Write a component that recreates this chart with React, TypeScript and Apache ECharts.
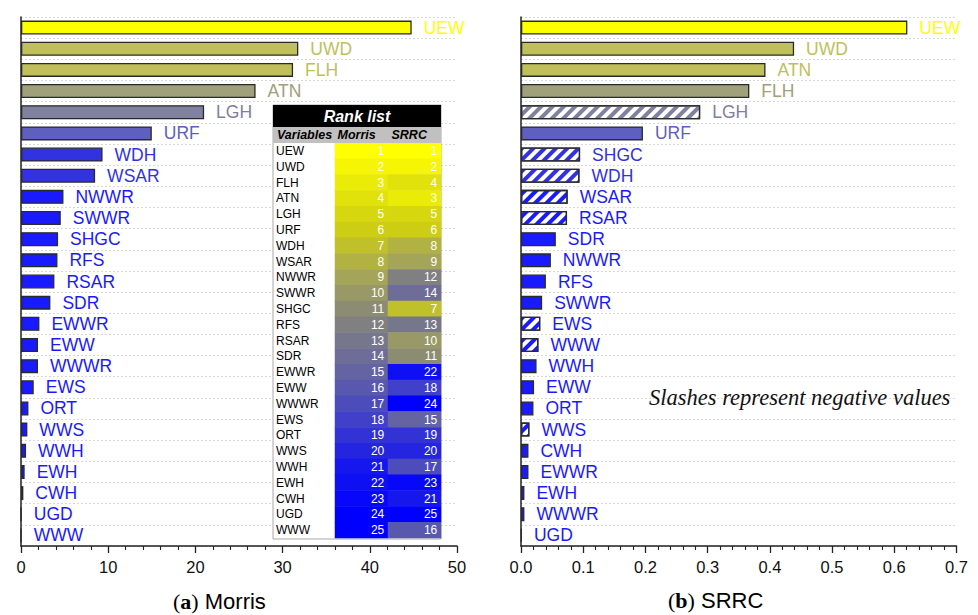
import React, { useEffect, useRef } from "react";
import * as echarts from "echarts";

// ---------- data ----------
const morrisVars = ["UEW", "UWD", "FLH", "ATN", "LGH", "URF", "WDH", "WSAR", "NWWR", "SWWR", "SHGC", "RFS", "RSAR", "SDR", "EWWR", "EWW", "WWWR", "EWS", "ORT", "WWS", "WWH", "EWH", "CWH", "UGD", "WWW"];
const morrisValues = [44.8, 31.8, 31.2, 26.9, 21.0, 15.0, 9.35, 8.5, 4.87, 4.56, 4.25, 4.18, 3.83, 3.37, 2.11, 1.95, 1.95, 1.46, 0.85, 0.73, 0.58, 0.42, 0.27, 0.02, 0.01];

const srrcVars = ["UEW", "UWD", "ATN", "FLH", "LGH", "URF", "SHGC", "WDH", "WSAR", "RSAR", "SDR", "NWWR", "RFS", "SWWR", "EWS", "WWW", "WWH", "EWW", "ORT", "WWS", "CWH", "EWWR", "EWH", "WWWR", "UGD"];
const srrcValues = [0.621, 0.439, 0.393, 0.367, -0.288, 0.196, -0.095, -0.094, -0.075, -0.074, 0.056, 0.048, 0.040, 0.034, -0.031, -0.028, 0.025, 0.021, 0.020, -0.0135, 0.012, 0.012, 0.0055, 0.0055, 0.001];

const morrisTicks = [0, 10, 20, 30, 40, 50];
const srrcTicks = [0, 0.1, 0.2, 0.3, 0.4, 0.5, 0.6, 0.7];
const tableColumns = ["Morris", "SRRC"];

// ---------- styles ----------
const SANS = '"Liberation Sans", Arial, sans-serif';
const SERIF = '"Liberation Serif", "Times New Roman", serif';

function valueColor(t: number): string {
  if (t >= 0.9) return "#FFFF00";
  if (t >= 0.62) return "#C0C05A";
  if (t >= 0.55) return "#A0A07A";
  if (t >= 0.4) return "#80809F";
  if (t >= 0.28) return "#5F5FC0";
  if (t >= 0.15) return "#3232E0";
  return "#1A1AFF";
}

const rankStops: [number, number[]][] = [
  [1, [255, 255, 0]],
  [6, [205, 205, 20]],
  [9, [165, 165, 90]],
  [12, [128, 128, 128]],
  [15, [100, 100, 162]],
  [18, [64, 64, 200]],
  [21, [22, 22, 238]],
  [24, [0, 0, 255]],
  [25, [0, 0, 255]],
];
function rankColor(r: number): string {
  for (let i = 0; i < rankStops.length - 1; i++) {
    const [a, ca] = rankStops[i];
    const [b, cb] = rankStops[i + 1];
    if (r >= a && r <= b) {
      const f = (r - a) / (b - a);
      const c = ca.map((v, k) => Math.round(v + (cb[k] - v) * f));
      return `rgb(${c[0]},${c[1]},${c[2]})`;
    }
  }
  return "rgb(0,0,255)";
}

export default function App() {
  const ref = useRef<HTMLDivElement>(null);
  useEffect(() => {
    if (!ref.current) return;
    const chart = echarts.init(ref.current, undefined, { renderer: "svg" });

    const mMax = Math.max(...morrisValues);
    const sMax = Math.max(...srrcValues.map((v) => Math.abs(v)));

    const morrisData = morrisValues.map((v) => {
      const c = valueColor(v / mMax);
      return { value: v, itemStyle: { color: c }, label: { color: c } };
    });
    const srrcData = srrcValues.map((v) => {
      const a = Math.abs(v);
      const c = valueColor(a / sMax);
      if (v < 0) {
        return {
          value: a,
          itemStyle: {
            color: "#ffffff",
            decal: {
              symbol: "rect",
              symbolSize: 1,
              color: c,
              dashArrayX: [1, 0],
              dashArrayY: [4, 4],
              rotation: -Math.PI / 4,
            },
          },
          label: { color: c },
        };
      }
      return { value: a, itemStyle: { color: c }, label: { color: c } };
    });

    const srrcRanks = morrisVars.map((v) => srrcVars.indexOf(v) + 1);
    const heatData: number[][] = [];
    morrisVars.forEach((v, i) => {
      heatData.push([0, i, i + 1]);
      heatData.push([1, i, srrcRanks[i]]);
    });
    const rankPieces = morrisVars.map((_, i) => ({ value: i + 1, color: rankColor(i + 1) }));

    const valueAxisCommon = {
      type: "value",
      axisLine: { show: true, lineStyle: { color: "#222", width: 1.5 } },
      axisTick: { show: true, inside: false, length: 7, lineStyle: { color: "#222", width: 1.3 } },
      minorTick: { show: true, splitNumber: 5, length: 4, lineStyle: { color: "#222", width: 1.1 } },
      splitLine: { show: false },
      axisLabel: { fontSize: 16.5, color: "#111", fontFamily: SANS, margin: 12 },
    };
    const catAxisCommon = {
      type: "category",
      inverse: true,
      axisLine: { show: true, lineStyle: { color: "#222", width: 1.5 } },
      axisTick: { show: false },
      axisLabel: { show: false },
      splitLine: { show: true, interval: 0, lineStyle: { color: "#d8d8d8", type: [2, 2], width: 1 } },
    };
    const barCommon = {
      type: "bar",
      barWidth: 14,
      itemStyle: { borderColor: "#2a2a2a", borderWidth: 1.3 },
      label: {
        show: true,
        position: "right",
        distance: 12,
        formatter: "{b}",
        fontSize: 17.5,
        fontFamily: SANS,
      },
    };

    chart.setOption({
      animation: false,
      backgroundColor: "#ffffff",
      grid: [
        { left: 21, top: 17, width: 436, height: 529 },
        { left: 521, top: 17, width: 435.5, height: 529 },
        { left: 335, top: 143, width: 106, height: 395 },
      ],
      visualMap: {
        type: "piecewise",
        show: false,
        seriesIndex: 2,
        dimension: 2,
        pieces: rankPieces,
      },
      xAxis: [
        {
          ...valueAxisCommon,
          gridIndex: 0,
          min: morrisTicks[0],
          max: morrisTicks[morrisTicks.length - 1],
          interval: morrisTicks[1] - morrisTicks[0],
        },
        {
          ...valueAxisCommon,
          gridIndex: 1,
          min: srrcTicks[0],
          max: srrcTicks[srrcTicks.length - 1],
          interval: 0.1,
          axisLabel: { ...valueAxisCommon.axisLabel, formatter: (v: number) => v.toFixed(1) },
        },
        { type: "category", gridIndex: 2, data: tableColumns, show: false },
      ],
      yAxis: [
        { ...catAxisCommon, gridIndex: 0, data: morrisVars },
        { ...catAxisCommon, gridIndex: 1, data: srrcVars },
        {
          type: "category",
          gridIndex: 2,
          data: morrisVars,
          inverse: true,
          z: 5,
          axisLine: { show: false },
          axisTick: { show: false },
          splitLine: { show: false },
          axisLabel: { align: "left", margin: 59, fontSize: 12, color: "#000", fontFamily: SANS },
        },
      ],
      series: [
        { ...barCommon, xAxisIndex: 0, yAxisIndex: 0, data: morrisData },
        { ...barCommon, xAxisIndex: 1, yAxisIndex: 1, data: srrcData },
        {
          type: "heatmap",
          xAxisIndex: 2,
          yAxisIndex: 2,
          z: 3,
          data: heatData,
          label: {
            show: true,
            position: "insideRight",
            distance: 4,
            color: "#ffffff",
            fontSize: 12,
            fontFamily: SANS,
            formatter: (p: any) => String(p.value[2]),
          },
          emphasis: { disabled: true },
        },
      ],
      graphic: [
        {
          type: "rect",
          z: 1,
          shape: { x: 273, y: 105, width: 168, height: 434 },
          style: { fill: "#ffffff", stroke: "#a8a8a8", lineWidth: 1 },
        },
        {
          type: "rect",
          z: 6,
          shape: { x: 273, y: 105, width: 168, height: 22 },
          style: { fill: "#000000" },
        },
        {
          type: "text",
          z: 7,
          x: 357,
          y: 116,
          style: {
            text: "Rank list",
            fill: "#ffffff",
            font: `italic bold 16px ${SANS}`,
            textAlign: "center",
            textVerticalAlign: "middle",
          },
        },
        {
          type: "rect",
          z: 6,
          shape: { x: 273, y: 127, width: 168, height: 16 },
          style: { fill: "#c0c0c0" },
        },
        {
          type: "text",
          z: 7,
          x: 277,
          y: 135,
          style: { text: "Variables", fill: "#000", font: `italic bold 12.5px ${SANS}`, textVerticalAlign: "middle" },
        },
        {
          type: "text",
          z: 7,
          x: 337.5,
          y: 135,
          style: { text: "Morris", fill: "#000", font: `italic bold 12.5px ${SANS}`, textVerticalAlign: "middle" },
        },
        {
          type: "text",
          z: 7,
          x: 391.5,
          y: 135,
          style: { text: "SRRC", fill: "#000", font: `italic bold 12.5px ${SANS}`, textVerticalAlign: "middle" },
        },
        {
          type: "text",
          z: 7,
          x: 649,
          y: 397,
          style: {
            text: "Slashes represent negative values",
            fill: "#111",
            font: `italic 22.5px ${SERIF}`,
            textVerticalAlign: "middle",
          },
        },
        {
          type: "text",
          z: 7,
          x: 173,
          y: 601,
          style: {
            text: "{p|(}{b|a}{p|)} Morris",
            fill: "#000",
            fontSize: 22,
            fontFamily: SANS,
            textVerticalAlign: "middle",
            rich: {
              p: { fontFamily: SERIF, fontSize: 22 },
              b: { fontFamily: SERIF, fontSize: 22, fontWeight: "bold" },
            },
          },
        },
        {
          type: "text",
          z: 7,
          x: 668,
          y: 600,
          style: {
            text: "{p|(}{b|b}{p|)} SRRC",
            fill: "#000",
            fontSize: 22,
            fontFamily: SANS,
            textVerticalAlign: "middle",
            rich: {
              p: { fontFamily: SERIF, fontSize: 22 },
              b: { fontFamily: SERIF, fontSize: 22, fontWeight: "bold" },
            },
          },
        },
      ],
    });
    return () => chart.dispose();
  }, []);
  return (
    <div
      ref={ref}
      style={{ position: "fixed", left: 0, top: 0, width: 978, height: 615, background: "#fff" }}
    />
  );
}
